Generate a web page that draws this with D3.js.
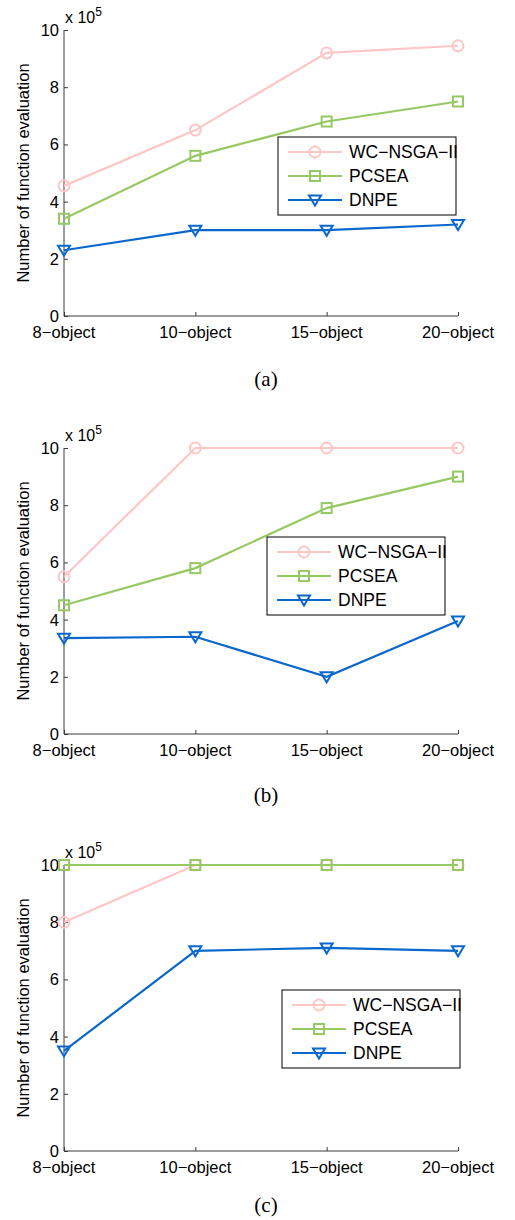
<!DOCTYPE html>
<html>
<head>
<meta charset="utf-8">
<script src="https://cdn.jsdelivr.net/npm/d3@7"></script>
<style>
  body { margin: 0; background: #fff; }
  svg text { font-family: "Liberation Sans", Arial, sans-serif; }
  svg text.caption { font-family: "Liberation Serif", "Times New Roman", serif; }
</style>
</head>
<body>
<div id="chart"></div>
<script>
// values are in units of 10^5 evaluations
var categories = ["8\u2212object", "10\u2212object", "15\u2212object", "20\u2212object"];
var seriesNames = ["WC\u2212NSGA\u2212II", "PCSEA", "DNPE"];
var seriesColors = ["#ffc6c6", "#96c864", "#0a68cc"];
var seriesMarkers = ["circle", "square", "triangle"];
var yTicks = [0, 2, 4, 6, 8, 10];

var panelA_wc    = [4.55, 6.5, 9.2, 9.45];
var panelA_pcsea = [3.4, 5.6, 6.8, 7.5];
var panelA_dnpe  = [2.3, 3.0, 3.0, 3.2];

var panelB_wc    = [5.5, 10, 10, 10];
var panelB_pcsea = [4.5, 5.8, 7.9, 9.0];
var panelB_dnpe  = [3.35, 3.4, 2.0, 3.95];

var panelC_wc    = [8.0, 10, 10, 10];
var panelC_pcsea = [10, 10, 10, 10];
var panelC_dnpe  = [3.5, 7.0, 7.1, 7.0];

var panels = [
    {caption: "(a)", top: 30,  capY: 386,  legend: [278, 107], data: [panelA_wc, panelA_pcsea, panelA_dnpe]},
    {caption: "(b)", top: 448, capY: 802,  legend: [267, 89],  data: [panelB_wc, panelB_pcsea, panelB_dnpe]},
    {caption: "(c)", top: 865, capY: 1212, legend: [282, 125], data: [panelC_wc, panelC_pcsea, panelC_dnpe]}
];

var width = 515, height = 1220;
var plotLeft = 64, plotRight = 458, plotHeight = 286;
var axisColor = "#3a3a3a";
var fontSize = 16.5;

var svg = d3.select("#chart").append("svg")
    .attr("width", width)
    .attr("height", height);

var x = d3.scalePoint().domain(categories).range([plotLeft, plotRight]);
var y = d3.scaleLinear().domain([0, 10]).range([plotHeight, 0]);

function drawMarker(g, type, cx, cy, color) {
    if (type == "circle") {
        g.append("circle")
            .attr("cx", cx).attr("cy", cy).attr("r", 5.5)
            .attr("fill", "none").attr("stroke", color).attr("stroke-width", 2);
    } else if (type == "square") {
        g.append("rect")
            .attr("x", cx - 5).attr("y", cy - 5)
            .attr("width", 10).attr("height", 10)
            .attr("fill", "none").attr("stroke", color).attr("stroke-width", 2);
    } else {
        g.append("path")
            .attr("d", "M" + (cx - 6) + "," + (cy - 4.5) + "L" + (cx + 6) + "," + (cy - 4.5) + "L" + cx + "," + (cy + 5.5) + "Z")
            .attr("fill", "none").attr("stroke", color).attr("stroke-width", 2)
            .attr("stroke-linejoin", "miter");
    }
}

panels.forEach(function (p) {
    var g = svg.append("g").attr("transform", "translate(0," + p.top + ")");

    // y axis, ticks inward
    var yAxis = g.append("g")
        .attr("transform", "translate(" + plotLeft + ",0)")
        .call(d3.axisRight(y).tickValues(yTicks).tickSize(4).tickFormat(""));
    yAxis.select(".domain").attr("stroke", axisColor).attr("d", "M0,0V" + plotHeight);
    yAxis.selectAll(".tick line").attr("stroke", axisColor);

    g.selectAll(".ylab")
        .data(yTicks)
        .enter().append("text")
        .attr("class", "ylab")
        .attr("x", plotLeft - 5)
        .attr("y", function (d) { return y(d); })
        .attr("dy", "0.36em")
        .attr("text-anchor", "end")
        .attr("font-size", fontSize)
        .text(function (d) { return d; });

    // x axis, ticks inward
    var xAxis = g.append("g")
        .attr("transform", "translate(0," + plotHeight + ")")
        .call(d3.axisTop(x).tickSize(4).tickFormat(""));
    xAxis.select(".domain").attr("stroke", axisColor).attr("d", "M" + plotLeft + ",0H" + plotRight);
    xAxis.selectAll(".tick line").attr("stroke", axisColor);

    g.selectAll(".xlab")
        .data(categories)
        .enter().append("text")
        .attr("class", "xlab")
        .attr("x", function (d) { return x(d); })
        .attr("y", plotHeight + 22)
        .attr("text-anchor", "middle")
        .attr("font-size", fontSize)
        .text(function (d) { return d; });

    // exponent label
    var ex = g.append("text")
        .attr("x", plotLeft + 1)
        .attr("y", -7)
        .attr("font-size", 16);
    ex.append("tspan").text("x 10");
    ex.append("tspan").attr("dy", -7).attr("font-size", 12).text("5");

    // y label
    g.append("text")
        .attr("transform", "translate(29," + (plotHeight / 2) + ") rotate(-90)")
        .attr("text-anchor", "middle")
        .attr("font-size", fontSize)
        .text("Number of function evaluation");

    // series
    var line = d3.line()
        .x(function (d, i) { return x(categories[i]); })
        .y(function (d) { return y(d); });

    p.data.forEach(function (vals, s) {
        g.append("path")
            .datum(vals)
            .attr("d", line)
            .attr("fill", "none")
            .attr("stroke", seriesColors[s])
            .attr("stroke-width", 2.2);
        for (var i = 0; i < vals.length; i++) {
            drawMarker(g, seriesMarkers[s], x(categories[i]), y(vals[i]), seriesColors[s]);
        }
    });

    // legend
    var lg = g.append("g").attr("transform", "translate(" + p.legend[0] + "," + p.legend[1] + ")");
    lg.append("rect")
        .attr("width", 178).attr("height", 78)
        .attr("fill", "#fff").attr("stroke", "#000").attr("stroke-width", 1);
    for (var s = 0; s < seriesNames.length; s++) {
        var ry = 15 + s * 24;
        lg.append("line")
            .attr("x1", 10).attr("x2", 64).attr("y1", ry).attr("y2", ry)
            .attr("stroke", seriesColors[s]).attr("stroke-width", 2.2);
        drawMarker(lg, seriesMarkers[s], 37, ry, seriesColors[s]);
        lg.append("text")
            .attr("x", 71).attr("y", ry).attr("dy", "0.36em")
            .attr("font-size", 17.5)
            .text(seriesNames[s]);
    }

    // caption
    svg.append("text")
        .attr("class", "caption")
        .attr("x", 266)
        .attr("y", p.capY)
        .attr("text-anchor", "middle")
        .attr("font-size", 21)
        .text(p.caption);
});
</script>
</body>
</html>
